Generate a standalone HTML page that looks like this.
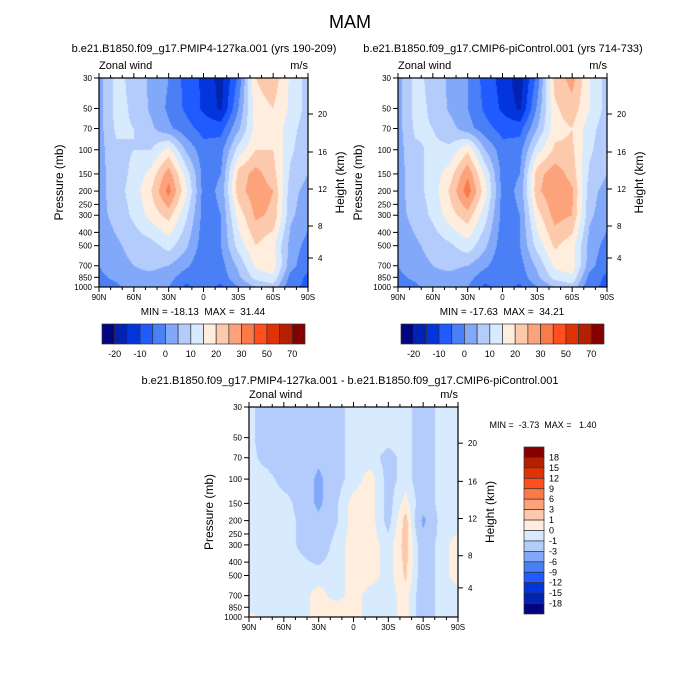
<!DOCTYPE html>
<html><head><meta charset="utf-8">
<style>
body{margin:0;background:#fff;}
#root{position:relative;width:700px;height:700px;overflow:hidden;font-family:"Liberation Sans",sans-serif;}
canvas{position:absolute;}
svg{position:absolute;left:0;top:0;}
text{white-space:pre;}
</style></head>
<body>
<div id="root">
<canvas id="c1" width="209" height="209" style="left:99px;top:78px"></canvas>
<canvas id="c2" width="209" height="209" style="left:398px;top:78px"></canvas>
<canvas id="c3" width="209" height="210" style="left:249px;top:407px"></canvas>
<svg id="ov" width="700" height="700"></svg>
</div>
<script>
const lats=[90,75,60,45,30,15,0,-15,-30,-45,-60,-75,-90];
const levels=[30,50,70,100,150,200,300,500,700,850,1000];
const windPMIP=[
[3,12,8,4,0,-7,-11,-17,-4,20,23,14,8],
[3,12,9,4,-1,-6,-11,-16,0,18,20,14,8],
[3,11,10,6,1,-3,-7,-7,4,17,19,12,7],
[3,9,10,10,17,4,-3,-2,12,20,20,11,6],
[3,8,11,17,28,13,-2,0,22,27,22,9,5],
[3,8,12,20,32,16,-2,1,23,28,25,7,3],
[3,7,11,17,22,11,-2,0,17,26,24,6,2],
[1,4,7,8,12,6,-3,0,12,20,16,3,-2],
[0,3,5,6,5,1,-4,-2,6,16,18,2,-4],
[-1,1,4,4,2,-3,-3,-3,4,12,14,-2,-6],
[-2,-1,2,2,0,-6,-3,-6,0,5,8,-4,-6]];
const windCTRL=[
[3,12,8,4,0,-7,-12,-18,-3,22,27,15,8],
[3,12,9,4,0,-6,-11,-16,1,19,23,15,8],
[3,11,10,7,2,-3,-7,-7,5,18,20,12,7],
[3,9,11,11,19,5,-3,-2,13,21,21,11,6],
[3,8,12,18,29,14,-2,0,23,28,23,9,5],
[3,8,12,21,33,17,-2,1,24,29,26,7,3],
[3,7,11,18,23,12,-2,0,18,27,25,6,2],
[1,4,7,9,13,6,-3,0,12,21,17,3,-2],
[0,3,5,6,5,1,-4,-2,6,16,18,2,-4],
[-1,1,4,4,2,-3,-3,-3,4,12,14,-2,-6],
[-2,-1,2,2,0,-6,-3,-6,0,5,8,-4,-6]];
const windDiff=[
[-0.5,-2,-2,-2,-2,-1.5,-0.5,-0.5,-0.5,-0.5,-2,-0.5,-0.5],
[-0.5,-2,-2,-2,-2,-1.5,-0.5,-0.5,-0.5,-0.5,-2,-0.5,-0.5],
[-0.5,-1.5,-2,-2,-2.5,-1.5,-0.5,-0.5,-1.5,-0.5,-2,-0.5,-0.5],
[-0.5,-0.5,-1.5,-1.5,-3.5,-1.5,-0.5,0.5,-1.5,-0.5,-2,-0.5,-0.5],
[-0.5,-0.5,-0.5,-1.5,-3.5,-1.2,0.5,0.5,-1.5,0.5,-2,-0.5,-0.5],
[-0.5,-0.5,-0.5,-1.2,-2.5,-1.2,0.5,0.5,-1.5,1.5,-3.5,-0.5,-0.5],
[-0.5,-0.5,-0.5,-1.2,-2,-0.5,0.5,0.5,-0.5,1.5,-2,-0.5,0.5],
[-0.5,-0.5,-0.5,-0.5,-0.5,-0.5,0.5,0.5,-0.5,1.2,-2,-0.5,0.5],
[-0.5,-0.5,-0.5,-0.5,0.5,-0.5,0.5,-0.5,-0.5,0.5,-2,-0.5,-0.5],
[-0.5,-0.5,-0.5,-0.5,0.5,0.5,0.5,-0.5,-0.5,0.5,-2,-0.5,-0.5],
[0.5,-0.5,-0.5,-0.5,0.5,0.5,0.5,-0.5,-0.5,0.5,-2,-0.5,-0.5]];
const bounds=[-20,-15,-10,-5,0,5,10,15,20,25,30,40,50,60,70];
const boundLabels=["-20","-10","0","10","20","30","50","70"];
const diffBounds=[-18,-15,-12,-9,-6,-3,-1,0,1,3,6,9,12,15,18];
const diffLabels=["18","15","12","9","6","3","1","0","-1","-3","-6","-9","-12","-15","-18"];
const colors=["#03047f","#0123b0","#0235dc","#1f5bff","#4a7ff5","#82a8fa","#b3ccfb","#d8eafd","#ffeedd","#fdc9ad","#fca37c","#fb7a4a","#ff4f1f","#e13205","#b52000","#870000"];
const xTicks=["90N","60N","30N","0","30S","60S","90S"];
const pTicks=[30,50,70,100,150,200,250,300,400,500,700,850,1000];
const hTicks=[4,8,12,16,20];
const hOff=[180,148,111,74,36];

function yOfP(p,H){return H*Math.log(p/30)/Math.log(1000/30);}
function rgb(h){return [parseInt(h.substr(1,2),16),parseInt(h.substr(3,2),16),parseInt(h.substr(5,2),16)];}
const crgb=colors.map(rgb);
function fill(id,grid,bd){
  const cv=document.getElementById(id),ctx=cv.getContext('2d');
  const W=cv.width,H=cv.height,img=ctx.createImageData(W,H);
  const lp=levels.map(p=>Math.log(p));
  for(let y=0;y<H;y++){
    const p=Math.log(30)+(y+0.5)/H*(Math.log(1000)-Math.log(30));
    let r=0;while(r<levels.length-2&&lp[r+1]<p)r++;
    const fy=Math.min(1,Math.max(0,(p-lp[r])/(lp[r+1]-lp[r])));
    for(let x=0;x<W;x++){
      const gx=(x+0.5)/W*(lats.length-1);const c=Math.min(lats.length-2,Math.floor(gx));const fx=gx-c;
      const v=(grid[r][c]*(1-fx)+grid[r][c+1]*fx)*(1-fy)+(grid[r+1][c]*(1-fx)+grid[r+1][c+1]*fx)*fy;
      let k=0;while(k<bd.length&&v>=bd[k])k++;
      const col=crgb[k],i=(y*W+x)*4;img.data[i]=col[0];img.data[i+1]=col[1];img.data[i+2]=col[2];img.data[i+3]=255;
    }
  }
  ctx.putImageData(img,0,0);
}
fill('c1',windPMIP,bounds);fill('c2',windCTRL,bounds);fill('c3',windDiff,diffBounds);

const ov=document.getElementById('ov');const NS='http://www.w3.org/2000/svg';
function el(t,a,txt){const e=document.createElementNS(NS,t);for(const k in a)e.setAttribute(k,a[k]);if(txt!==undefined)e.textContent=txt;ov.appendChild(e);return e;}
function txt(x,y,s,size,anchor,name,rot){const a={x:x,y:y,'font-size':size,'text-anchor':anchor||'middle',fill:'#000','font-family':'Liberation Sans, sans-serif'};if(rot)a.transform='rotate(-90 '+x+' '+y+')';const e=el('text',a,s);

return e;}
function line(x1,y1,x2,y2,w){return el('line',{x1:x1,y1:y1,x2:x2,y2:y2,stroke:'#000','stroke-width':w||1});}

function panel(X,Y,W,H,pref){
  el('rect',{x:X,y:Y,width:W,height:H,fill:'none',stroke:'#000','stroke-width':1.2});
  for(let d=0;d<=18;d++){const x=X+W*d/18;const L=(d%3==0)?5:3;line(x,Y+H,x,Y+H+L);line(x,Y,x,Y-L);}
  xTicks.forEach((s,i)=>txt(X+W*i/6,Y+H+13,s,8,'middle',pref+'-x-tick-'+i));
  pTicks.forEach(p=>{const y=Y+yOfP(p,H);line(X-5,y,X,y);txt(X-7,y+3,String(p),8,'end',pref+'-y-tick-'+p);});
  hTicks.forEach((h,i)=>{const y=Y+hOff[i]*H/209;line(X+W,y,X+W+5,y);txt(X+W+10,y+3,String(h),8,'start',pref+'-height-tick-'+h);});
  txt(X,Y-9,'Zonal wind',11,'start',pref+'-left-title');
  txt(X+W,Y-9,'m/s',11,'end',pref+'-units');
  txt(X-36,Y+H/2,'Pressure (mb)',12,'middle',pref+'-y-axis-title',true);
  txt(X+W+36,Y+H/2,'Height (km)',12,'middle',pref+'-height-axis-title',true);
}
panel(99,78,209,209,'pmip4');panel(398,78,209,209,'picontrol');panel(249,407,209,210,'diff');

txt(350,28,'MAM',18,'middle','main-title');
txt(204,52,'b.e21.B1850.f09_g17.PMIP4-127ka.001 (yrs 190-209)',11,'middle','pmip4-title');
txt(503,52,'b.e21.B1850.f09_g17.CMIP6-piControl.001 (yrs 714-733)',11,'middle','picontrol-title');
txt(203,315,'MIN = -18.13  MAX =  31.44',10,'middle','pmip4-minmax');
txt(502,315,'MIN = -17.63  MAX =  34.21',10,'middle','picontrol-minmax');
txt(350,384,'b.e21.B1850.f09_g17.PMIP4-127ka.001 - b.e21.B1850.f09_g17.CMIP6-piControl.001',11,'middle','diff-title');
txt(543,428,'MIN =  -3.73  MAX =   1.40',9,'middle','diff-minmax');

function hbar(X,pref){
  const Y=324,W=203,H=20,n=colors.length,bw=W/n;
  colors.forEach((c,i)=>{const r=el('rect',{x:X+i*bw,y:Y,width:bw,height:H,fill:c,stroke:'#333','stroke-width':0.7});
  
  });
  boundLabels.forEach((s,i)=>txt(X+bw*(1+2*i),Y+H+13,s,9,'middle',pref+'-colorbar-label'));
}
hbar(102,'pmip4');hbar(401,'picontrol');
(function(){const X=524,Y=447,W=20,H=167,n=colors.length,bh=H/n;
  colors.slice().reverse().forEach((c,i)=>{const r=el('rect',{x:X,y:Y+i*bh,width:W,height:bh,fill:c,stroke:'#333','stroke-width':0.7});
  
  });
  diffLabels.forEach((s,i)=>txt(X+W+5,Y+bh*(i+1)+3,s,9,'start','diff-colorbar-label'));
})();
</script>
</body></html>
